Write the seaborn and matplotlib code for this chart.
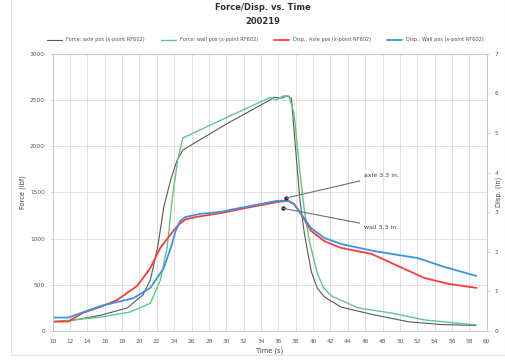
import matplotlib
matplotlib.use("Agg")
import matplotlib.pyplot as plt
import pandas as pd
import seaborn as sns

# Time axis ticks and series
x_ticks = list(range(10, 61, 2))

force_axle_t = [10.0, 12.0, 15.5, 18.6, 20.4, 21.25, 22.1, 22.8, 23.6, 24.3, 25.0, 30.0, 35.0,
                35.5, 36.3, 37.0, 37.5, 38.0, 38.5, 39.0, 39.8, 40.5, 41.3, 43.2, 47.0, 51.0,
                54.8, 58.8]
force_axle = [100, 110, 170, 250, 390, 550, 910, 1340, 1640, 1840, 1960, 2240, 2500,
              2530, 2520, 2545, 2520, 1950, 1400, 1050, 640, 460, 370, 260, 175, 100,
              70, 60]

force_wall_t = [10.0, 11.8, 15.5, 18.9, 21.25, 22.4, 23.2, 23.8, 24.4, 25.0, 30.0, 35.1,
                35.7, 36.6, 37.2, 37.8, 38.5, 39.0, 39.6, 40.5, 41.2, 42.1, 45.2, 49.0,
                52.8, 58.8]
force_wall = [100, 115, 150, 205, 300, 550, 910, 1450, 1850, 2090, 2310, 2530,
              2500, 2545, 2545, 2360, 1700, 1300, 960, 620, 470, 380, 250, 195,
              120, 65]

disp_axle_t = [10.0, 11.8, 13.5, 15.5, 17.4, 19.75, 21.25, 22.4, 23.9, 24.6, 25.3, 26.5,
               29.4, 32.8, 35.9, 37.1, 37.8, 38.6, 39.76, 41.3, 43.2, 46.7, 49.8, 52.8,
               55.6, 58.8]
disp_axle = [0.24, 0.24, 0.46, 0.61, 0.78, 1.14, 1.59, 2.10, 2.53, 2.70, 2.82, 2.88,
             2.98, 3.13, 3.26, 3.29, 3.21, 2.96, 2.53, 2.27, 2.10, 1.95, 1.64, 1.34,
             1.19, 1.09]

disp_wall_t = [10.0, 11.8, 15.5, 19.3, 21.25, 22.8, 23.6, 24.2, 24.7, 25.3, 27.0, 29.4,
               30.9, 32.8, 35.9, 37.1, 37.8, 38.6, 39.76, 41.3, 43.2, 47.0, 52.1, 54.8,
               58.8]
disp_wall = [0.34, 0.34, 0.63, 0.83, 1.09, 1.59, 2.10, 2.55, 2.78, 2.88, 2.96, 3.01,
             3.08, 3.16, 3.29, 3.29, 3.21, 2.96, 2.60, 2.35, 2.20, 2.02, 1.84, 1.64,
             1.39]

labels = [
    "Force: axle pos (x-point RF602)",
    "Force: wall pos (x-point RF602)",
    "Disp.: Axle pos (x-point RF602)",
    "Disp.: Wall pos (x-point RF602)",
]
colors = ["#595959", "#5cc98a", "#ff3a3a", "#3a93e6"]
widths = [0.8, 1.0, 1.3, 1.3]

# peak labels
notes = ["axle 3.3 in.", "wall 3.3 in."]
note_pts = [(36.9, 3.36), (36.5, 3.1)]
note_txt = [(45.9, 3.92), (45.9, 2.62)]


def main():
    sns.set_style("white")
    plt.rcParams["font.family"] = ["DejaVu Sans"]

    fig = plt.figure(figsize=(5.06, 3.62), dpi=100)
    ax = fig.add_axes([0.104, 0.0856, 0.858, 0.7655])
    ax2 = ax.twinx()

    grid_c = "#dcdcdc"
    tick_c = "#595959"

    force = [(force_axle_t, force_axle), (force_wall_t, force_wall)]
    disp = [(disp_axle_t, disp_axle), (disp_wall_t, disp_wall)]

    handles = []
    for i, (t, v) in enumerate(force):
        df = pd.DataFrame({"t": t, "v": v})
        sns.lineplot(data=df, x="t", y="v", ax=ax, color=colors[i], linewidth=widths[i],
                     label=labels[i], legend=False)
        handles.append(ax.lines[-1])
    for i, (t, v) in enumerate(disp):
        df = pd.DataFrame({"t": t, "v": v})
        sns.lineplot(data=df, x="t", y="v", ax=ax2, color=colors[i + 2],
                     linewidth=widths[i + 2], label=labels[i + 2], legend=False)
        handles.append(ax2.lines[-1])

    ax.set_xlim(10, 60)
    ax.set_ylim(0, 3000)
    ax2.set_ylim(0, 7)
    ax.set_xticks(x_ticks)
    ax.set_yticks(range(0, 3001, 500))
    ax2.set_yticks(range(0, 8))

    ax.grid(True, color=grid_c, linewidth=0.6)
    ax.set_axisbelow(True)
    for a in (ax, ax2):
        for s in a.spines.values():
            s.set_color("#c8c8c8")
            s.set_linewidth(0.7)
        a.tick_params(labelsize=4.2, colors=tick_c, length=2, width=0.5,
                      color="#c8c8c8", pad=3.5)

    ax.set_xlabel("Time (s)", fontsize=4.8, color="#404040", labelpad=3)
    ax.set_ylabel("Force (lbf)", fontsize=4.8, color="#404040")
    ax.yaxis.set_label_coords(-0.062, 0.5)
    ax2.set_ylabel("")
    # right-hand label placed by hand so it stays inside the canvas
    fig.text(0.986, 0.47, "Disp. (in)", rotation=90, ha="center", va="center",
             fontsize=4.8, color="#404040")

    for txt, pt, tp in zip(notes, note_pts, note_txt):
        ax2.annotate(txt, xy=pt, xytext=tp, fontsize=4.5, color="#404040",
                     va="center", ha="left",
                     arrowprops=dict(arrowstyle="-", color="#707070", lw=0.8,
                                     shrinkA=1, shrinkB=0))
        ax2.plot(*pt, "o", color="#303030", markersize=2.2)

    fig.legend(handles=handles, labels=labels, loc="center", ncol=4,
               bbox_to_anchor=(0.525, 0.89), fontsize=3.6, frameon=False,
               handlelength=3.0, columnspacing=3.2, labelcolor="#505050")

    fig.text(0.52, 0.978, "Force/Disp. vs. Time", ha="center", va="center",
             fontsize=6, fontweight="bold", color="#303030")
    fig.text(0.52, 0.94, "200219", ha="center", va="center",
             fontsize=6, fontweight="bold", color="#303030")

    fig.patches.append(plt.Rectangle((0.022, 0.02), 0.976, 1.0, transform=fig.transFigure,
                                     fill=False, edgecolor="#e6e6e6", linewidth=0.8))

    fig.savefig("out.png", dpi=100)
    plt.close(fig)


if __name__ == "__main__":
    main()
